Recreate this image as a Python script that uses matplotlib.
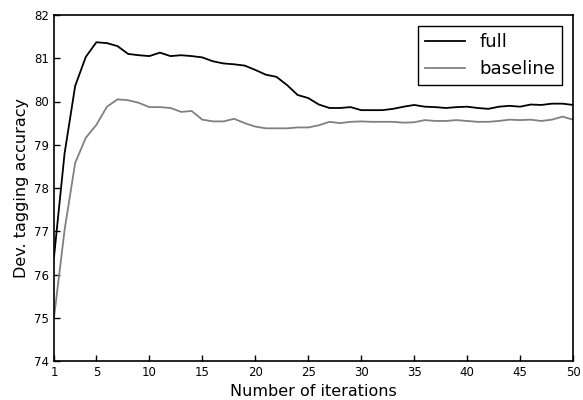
import numpy as np
import matplotlib
matplotlib.use("Agg")
import matplotlib.pyplot as plt

iterations = np.arange(1, 51)

full = [76.4, 78.8, 80.36, 81.03, 81.37, 81.35, 81.28, 81.1, 81.07, 81.05,
        81.13, 81.05, 81.07, 81.05, 81.02, 80.93, 80.88, 80.86, 80.83, 80.73,
        80.62, 80.57, 80.38, 80.15, 80.08, 79.93, 79.85, 79.85, 79.87, 79.8,
        79.8, 79.8, 79.83, 79.88, 79.92, 79.88, 79.87, 79.85, 79.87, 79.88,
        79.85, 79.83, 79.88, 79.9, 79.88, 79.93, 79.92, 79.95, 79.95, 79.92]

baseline = [75.0, 77.03, 78.58, 79.16, 79.46, 79.88, 80.05, 80.03, 79.97, 79.87,
            79.87, 79.85, 79.76, 79.78, 79.58, 79.54, 79.54, 79.6, 79.5, 79.42,
            79.38, 79.38, 79.38, 79.4, 79.4, 79.45, 79.53, 79.5, 79.53, 79.54,
            79.53, 79.53, 79.53, 79.51, 79.52, 79.57, 79.55, 79.55, 79.57, 79.55,
            79.53, 79.53, 79.55, 79.58, 79.57, 79.58, 79.55, 79.58, 79.65, 79.58]

xticks = [1, 5, 10, 15, 20, 25, 30, 35, 40, 45, 50]

fig = plt.figure(figsize=(5.83, 4.0), dpi=100)
ax = fig.add_axes([0.0926, 0.0975, 0.8904, 0.865])

ax.plot(iterations, full, color="black", linewidth=1.3, label="full")
ax.plot(iterations, baseline, color="#808080", linewidth=1.3, label="baseline")

ax.set_xlim(1, 50)
ax.set_ylim(74, 82)
ax.set_xticks(xticks)
ax.tick_params(direction="in", labelsize=8.5, length=4, width=1, top=False, right=False)
for s in ax.spines.values():
    s.set_linewidth(1.2)

ax.set_xlabel("Number of iterations", fontsize=11.5)
ax.set_ylabel("Dev. tagging accuracy", fontsize=11.5)

leg = ax.legend(loc="upper right", fontsize=13, fancybox=False, framealpha=1,
                edgecolor="black", borderaxespad=0.6, handlelength=2.2)
leg.get_frame().set_linewidth(1.0)

fig.savefig("out.png", dpi=100)
